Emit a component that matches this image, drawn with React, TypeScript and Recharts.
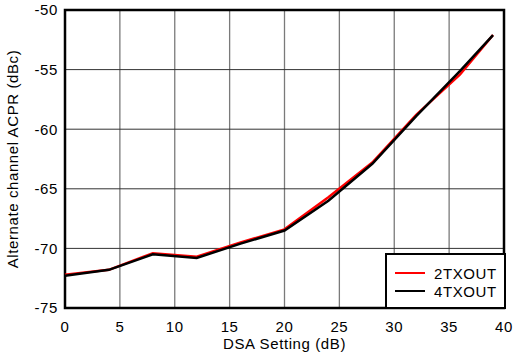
import { LineChart, Line, XAxis, YAxis, CartesianGrid, ReferenceArea } from 'recharts';

const dsaSetting = [0, 4, 8, 12, 16, 20, 24, 28, 32, 36, 39];
const acpr2tx = [-72.2, -71.8, -70.4, -70.7, -69.5, -68.4, -65.7, -62.8, -58.8, -55.4, -52.1];
const acpr4tx = [-72.3, -71.8, -70.5, -70.8, -69.6, -68.5, -66.0, -62.9, -58.9, -55.1, -52.1];
const xTicks = [0, 5, 10, 15, 20, 25, 30, 35, 40];
const yTicks = [-75, -70, -65, -60, -55, -50];

const seriesNames = ['2TXOUT', '4TXOUT'];
const seriesColors = ['#ff0000', '#000000'];

const data = dsaSetting.map((x, i) => ({ x, a: acpr2tx[i], b: acpr4tx[i] }));

const font = '"Liberation Sans", Arial, sans-serif';
const textStyle = { fill: '#000', fontSize: 15, fontFamily: font, letterSpacing: 0.6 };

function LegendBox() {
  return (
    <div
      style={{
        position: 'absolute',
        left: 385,
        top: 253,
        width: 117,
        height: 52,
        border: '2px solid #000',
        background: '#fff',
        fontFamily: font,
        fontSize: 15,
        letterSpacing: 0.6,
        color: '#000',
      }}
    >
      {seriesNames.map((name, i) => (
        <div key={name} style={{ display: 'flex', alignItems: 'center', height: 18, marginTop: i === 0 ? 9 : 0 }}>
          <div style={{ width: 30, height: 2.5, background: seriesColors[i], marginLeft: 8, marginRight: 9 }} />
          <span>{name}</span>
        </div>
      ))}
    </div>
  );
}

export default function App() {
  return (
    <div style={{ position: 'absolute', left: 0, top: 0, width: 513, height: 356, background: '#fff' }}>
      <LineChart width={513} height={356} data={data} margin={{ top: 10, right: 9, left: 0, bottom: 0 }}>
        <CartesianGrid horizontal={false} stroke="#7a7a7a" strokeWidth={1.3} />
        <CartesianGrid vertical={false} stroke="#333" strokeWidth={1} />
        <XAxis
          dataKey="x"
          type="number"
          domain={[0, 40]}
          ticks={xTicks}
          tickLine={false}
          axisLine={false}
          tickSize={0}
          tickMargin={13}
          height={48}
          tick={textStyle}
          label={{ value: 'DSA Setting (dB)', position: 'insideBottom', offset: 7, ...textStyle }}
        />
        <YAxis
          type="number"
          domain={[-75, -50]}
          ticks={yTicks}
          tickLine={false}
          axisLine={false}
          tickSize={0}
          tickMargin={7}
          width={65}
          tick={textStyle}
          label={{
            value: 'Alternate channel ACPR (dBc)',
            angle: -90,
            position: 'insideLeft',
            offset: 13,
            style: { textAnchor: 'middle' },
            ...textStyle,
          }}
        />
        <Line dataKey="a" name={seriesNames[0]} stroke={seriesColors[0]} strokeWidth={2.5} dot={false} isAnimationActive={false} />
        <Line dataKey="b" name={seriesNames[1]} stroke={seriesColors[1]} strokeWidth={2.5} dot={false} isAnimationActive={false} />
        <ReferenceArea x1={0} x2={40} y1={-75} y2={-50} fill="none" stroke="#000" strokeWidth={2.5} fillOpacity={0} />
      </LineChart>
      <LegendBox />
    </div>
  );
}
